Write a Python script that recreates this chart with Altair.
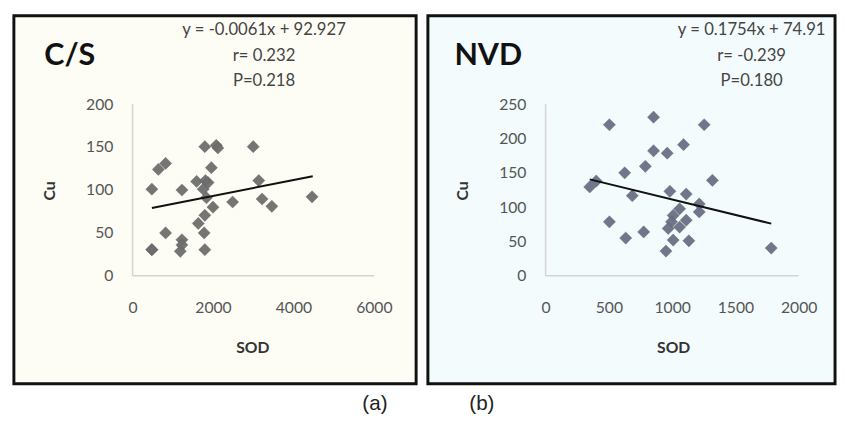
import altair as alt
import pandas as pd

# ---- Data ----
cs_sod = [480, 822, 642, 1959, 480, 1228, 1593, 1813, 1756, 1878, 1837, 2000,
          1797, 2081, 2122, 3000, 3138, 2488, 3220, 3463, 4463, 1797, 1634,
          1780, 822, 1228, 1228, 1187, 480, 1797]
cs_cu = [30.5, 131, 124, 126, 101, 100, 110, 111, 101, 108.6, 91, 80,
         150.5, 152, 149, 150.5, 111, 86, 89.5, 81, 92, 70.5, 61,
         50, 50, 42, 36, 28.6, 30.5, 30.5]
cs_fit_x = [480, 4480]
cs_fit_y = [79, 116]

nvd_sod = [504, 853, 1253, 1090, 853, 961, 788, 625, 1318, 349, 400, 685,
           982, 1111, 1214, 1214, 1059, 1008, 995, 1111, 1059, 969, 504, 775,
           633, 1008, 1132, 951, 1783]
nvd_cu = [220, 231, 220, 191, 182, 178.6, 159.5, 150, 139, 129.5, 138, 116.7,
          123, 119, 104.7, 93, 97.6, 88, 78.6, 81, 71, 69, 78.6, 64,
          55, 52, 51, 36, 40.5]
nvd_fit_x = [349, 1783]
nvd_fit_y = [140.5, 76]

cs_xticks = [0, 2000, 4000, 6000]
cs_yticks = [0, 50, 100, 150, 200]
nvd_xticks = [0, 500, 1000, 1500, 2000]
nvd_yticks = [0, 50, 100, 150, 200, 250]

cs_text = ["y = -0.0061x + 92.927", "r= 0.232", "P=0.218"]
nvd_text = ["y = 0.1754x + 74.91", "r= -0.239", "P=0.180"]

FONT = "Lato"


def panel(sod, cu, fit_x, fit_y, xticks, yticks, xdom, ydom, width, height,
          bg, pcolor, name, name_x, eq_lines, eq_x, x_title_x, tag, tag_x):
    pts = pd.DataFrame({"SOD": sod, "Cu": cu})
    fit = pd.DataFrame({"SOD": fit_x, "Cu": fit_y})
    xs = alt.Scale(domain=xdom, nice=False, zero=False)
    ys = alt.Scale(domain=ydom, nice=False, zero=False)

    yzero = (ydom[1] / (ydom[1] - ydom[0])) * height
    xoff = (0 - xdom[0]) / (xdom[1] - xdom[0]) * width
    xaxis = alt.Axis(values=xticks, domain=False, ticks=False, grid=False,
                     offset=-(height - yzero), format="d",
                     labelPadding=24, labelFont=FONT, labelFontSize=16,
                     labelColor="#555555", title="SOD", titleFont=FONT,
                     titleFontSize=16, titleFontWeight="bold",
                     titleColor="#333333", titlePadding=25, titleX=x_title_x)
    yaxis = alt.Axis(values=yticks, domain=False, ticks=False, grid=False,
                     offset=-xoff, labelPadding=20, labelFont=FONT, format="d",
                     labelFontSize=16, labelColor="#555555", title="Cu",
                     titleFont=FONT, titleFontSize=16, titleFontWeight="bold",
                     titleColor="#333333", titlePadding=29, titleY=178)

    axl = pd.DataFrame({"SOD": [0, 0], "x1": [xticks[-1], 0],
                        "Cu": [0, 0], "y1": [0, yticks[-1]]})
    axes_lines = alt.Chart(axl).mark_rule(color="#d4d4d4", strokeWidth=1.5).encode(
        x=alt.X("SOD:Q", scale=xs, axis=xaxis, title="SOD"), x2="x1:Q",
        y=alt.Y("Cu:Q", scale=ys, axis=yaxis, title="Cu"), y2="y1:Q",
    )
    points = alt.Chart(pts).mark_point(
        shape="diamond", filled=True, size=155, color=pcolor, opacity=0.95,
        stroke="#555555", strokeWidth=0.6, strokeOpacity=0.6
    ).encode(
        x=alt.X("SOD:Q", scale=xs, axis=xaxis, title="SOD"),
        y=alt.Y("Cu:Q", scale=ys, axis=yaxis, title="Cu"),
    )
    line = alt.Chart(fit).mark_line(color="#111111", strokeWidth=2).encode(
        x=alt.X("SOD:Q", scale=xs, axis=xaxis, title="SOD"),
        y=alt.Y("Cu:Q", scale=ys, axis=yaxis, title="Cu"),
    )
    title = alt.Chart(pd.DataFrame({"t": [name]})).mark_text(
        font=FONT, fontSize=31, fontWeight="bold", color="#111111",
        align="left", baseline="middle"
    ).encode(x=alt.value(name_x), y=alt.value(41), text="t:N")
    eqs = []
    for i, t in enumerate(eq_lines):
        eqs.append(alt.Chart(pd.DataFrame({"t": [t]})).mark_text(
            font=FONT, fontSize=17, color="#444444", align="center",
            baseline="middle"
        ).encode(x=alt.value(eq_x), y=alt.value(15 + 26 * i), text="t:N"))
    tagc = alt.Chart(pd.DataFrame({"t": [tag]})).mark_text(
        font="Liberation Sans", fontSize=21, color="#222222",
        align="center", baseline="middle"
    ).encode(x=alt.value(tag_x), y=alt.value(height + 21), text="t:N")

    return alt.layer(axes_lines, points, line, title, *eqs, tagc).properties(
        width=width, height=height,
        view=alt.ViewBackground(fill=bg, stroke="#111111", strokeWidth=3),
    )


left = panel(cs_sod, cs_cu, cs_fit_x, cs_fit_y, cs_xticks, cs_yticks,
             [-2950, 7050], [-125.7, 302.9], 410, 375, "#fdfcf5", "#6e6e6e",
             "C/S", 31, cs_text, 255, 243, "(a)", 368)
right = panel(nvd_sod, nvd_cu, nvd_fit_x, nvd_fit_y, nvd_xticks, nvd_yticks,
              [-930, 2287], [-157.1, 378.6], 415, 375, "#f3fbfd", "#6a6f85",
              "NVD", 27, nvd_text, 330, 250, "(b)", 55)

chart = alt.hconcat(left, right, spacing=8).properties(
    padding={"left": 4, "top": 2, "right": 0, "bottom": 0},
    background="white",
).configure_view(stroke="#111111", strokeWidth=3)

chart.save("out.html", embed_options={"renderer": "svg", "actions": False})
